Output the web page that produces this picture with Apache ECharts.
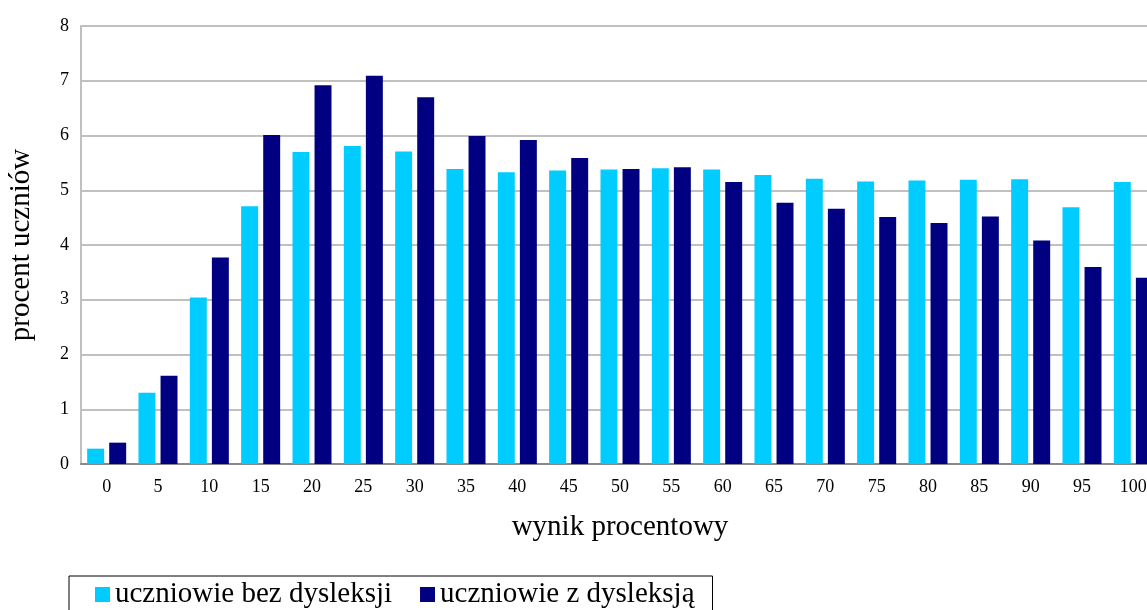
<!DOCTYPE html>
<html>
<head>
<meta charset="utf-8">
<script src="https://cdn.jsdelivr.net/npm/echarts@6/dist/echarts.min.js"></script>
<style>
    html, body { margin: 0; padding: 0; background: #fff; }
    #chart { width: 1147px; height: 610px; }
</style>
</head>
<body>
<div id="chart"></div>
<script>
const categories = ['0', '5', '10', '15', '20', '25', '30', '35', '40', '45', '50',
    '55', '60', '65', '70', '75', '80', '85', '90', '95', '100']
const bezDysleksji = [0.28, 1.30, 3.04, 4.71, 5.70, 5.81, 5.71, 5.39, 5.33, 5.36, 5.38,
    5.40, 5.38, 5.28, 5.21, 5.16, 5.18, 5.19, 5.20, 4.69, 5.15]
const zDysleksja = [0.39, 1.61, 3.77, 6.01, 6.92, 7.09, 6.70, 5.99, 5.92, 5.59, 5.39,
    5.42, 5.15, 4.77, 4.66, 4.51, 4.40, 4.52, 4.08, 3.60, 3.40]
const seriesNames = ['uczniowie bez dysleksji', 'uczniowie z dysleksją']
const yTicks = [0, 1, 2, 3, 4, 5, 6, 7, 8]

const font = '"Liberation Serif", "Times New Roman", serif'
const chart = echarts.init(document.getElementById('chart'))

const option = {
    animation: false,
    textStyle: { fontFamily: font },
    grid: {
        left: 81,
        top: 26,
        bottom: 146,
        right: -12,
        outerBoundsMode: 'none',
        containLabel: false
    },
    legend: {
        left: 69,
        top: 576,
        data: seriesNames,
        icon: 'rect',
        itemWidth: 15,
        itemHeight: 15,
        itemGap: 28,
        padding: [4, 18, 8, 26],
        borderColor: '#000',
        borderWidth: 1,
        textStyle: {
            fontFamily: font,
            fontSize: 29,
            color: '#000'
        }
    },
    xAxis: {
        type: 'category',
        data: categories,
        name: 'wynik procentowy',
        nameLocation: 'middle',
        nameGap: 49,
        nameTextStyle: { fontFamily: font, fontSize: 29, color: '#000', verticalAlign: 'top' },
        axisLine: { lineStyle: { color: '#888', width: 2 } },
        axisTick: { show: false },
        axisLabel: { fontFamily: font, fontSize: 18, color: '#000', margin: 14 }
    },
    yAxis: {
        type: 'value',
        min: yTicks[0],
        max: yTicks[yTicks.length - 1],
        interval: 1,
        name: 'procent uczniów',
        nameLocation: 'middle',
        nameGap: 45,
        nameTextStyle: { fontFamily: font, fontSize: 29, color: '#000' },
        axisLine: { show: true, lineStyle: { color: '#c0c0c0', width: 2 } },
        axisTick: { show: false },
        axisLabel: { fontFamily: font, fontSize: 18, color: '#000', margin: 12 },
        splitLine: { lineStyle: { color: '#c0c0c0', width: 2 } }
    },
    series: [
        {
            name: seriesNames[0],
            type: 'bar',
            data: bezDysleksji,
            itemStyle: { color: '#00ccff' },
            barGap: '30%',
            barCategoryGap: '24%'
        },
        {
            name: seriesNames[1],
            type: 'bar',
            data: zDysleksja,
            itemStyle: { color: '#000080' },
            barGap: '30%',
            barCategoryGap: '24%'
        }
    ]
}

chart.setOption(option)
</script>
</body>
</html>
